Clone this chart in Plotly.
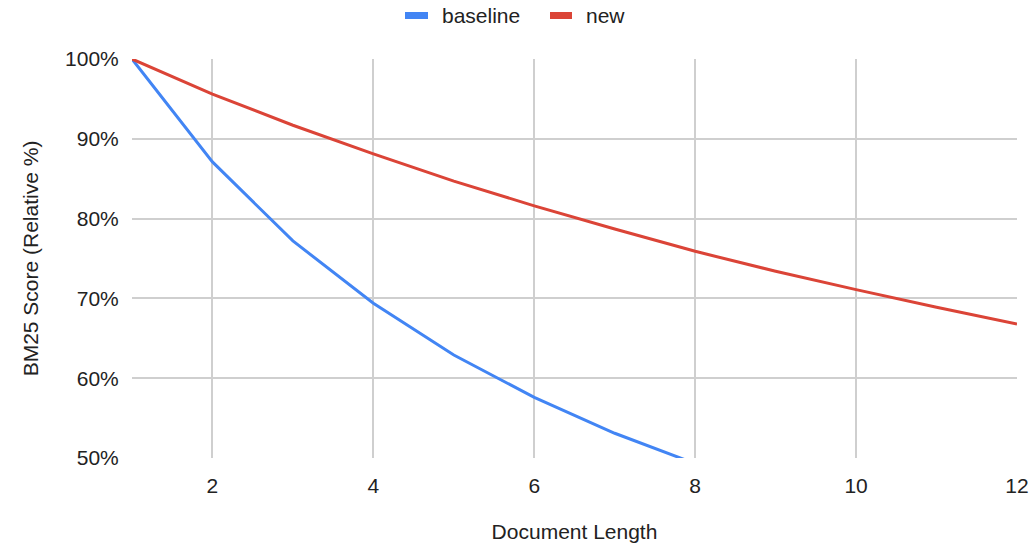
import plotly.graph_objects as go

# Relative BM25 score as document length grows
doc_length = [1, 2, 3, 4, 5, 6, 7, 8, 9, 10, 11, 12]
baseline = [100, 87.1, 77.2, 69.4, 62.9, 57.6, 53.1, 49.3]
new = [100, 95.6, 91.7, 88.1, 84.7, 81.6, 78.7, 75.9, 73.4, 71.1, 68.9, 66.8]

series_names = ["baseline", "new"]
series_colors = ["#4285F4", "#DB4437"]

x_ticks = [2, 4, 6, 8, 10, 12]
y_ticks = [50, 60, 70, 80, 90, 100]
y_tick_labels = ["50%", "60%", "70%", "80%", "90%", "100%"]

W, H = 1032, 545
L, R, T, B = 132, 15, 59, 87
FONT = "Liberation Sans, Arial, sans-serif"
FS = 21

fig = go.Figure()
fig.add_trace(go.Scatter(x=doc_length[:len(baseline)], y=baseline, mode="lines",
                         name=series_names[0], line=dict(color=series_colors[0], width=3),
                         showlegend=False, cliponaxis=True))
fig.add_trace(go.Scatter(x=doc_length, y=new, mode="lines",
                         name=series_names[1], line=dict(color=series_colors[1], width=3),
                         showlegend=False, cliponaxis=True))

# legend drawn at top centre as swatches + labels
pw, ph = W - L - R, H - T - B
def px_x(v):
    return (v - L) / pw
def px_y(v):
    return (H - B - v) / ph

legend_items = [(405, 428, 440), (550, 572, 584)]
for (x0, x1, tx), name, color in zip(legend_items, series_names, series_colors):
    fig.add_shape(type="rect", xref="paper", yref="paper",
                  x0=px_x(x0), x1=px_x(x1), y0=px_y(19), y1=px_y(12),
                  fillcolor=color, line=dict(width=0))
    fig.add_annotation(xref="paper", yref="paper", x=px_x(tx), y=px_y(15),
                       text=name, showarrow=False, xanchor="left", yanchor="middle",
                       font=dict(family=FONT, size=FS, color="#222222"))

fig.update_layout(
    width=W, height=H,
    margin=dict(l=L, r=R, t=T, b=B, autoexpand=False),
    paper_bgcolor="white", plot_bgcolor="white",
    font=dict(family=FONT, size=FS, color="#222222"),
)
fig.update_xaxes(
    range=[1, 12], tickvals=x_ticks, showgrid=True, gridcolor="#cfcfcf", gridwidth=1.5,
    zeroline=False, showline=False, ticks="outside", ticklen=9, tickcolor="rgba(0,0,0,0)",
    automargin=False,
    title=dict(text="Document Length", standoff=28, font=dict(size=FS)),
)
fig.update_yaxes(
    range=[50, 100], tickvals=y_ticks, ticktext=y_tick_labels, showgrid=True,
    gridcolor="#cfcfcf", gridwidth=1.5, zeroline=False, showline=False,
    ticks="outside", ticklen=8, tickcolor="rgba(0,0,0,0)", automargin=False,
    title=dict(text="BM25 Score (Relative %)", standoff=20, font=dict(size=FS)),
)

fig.write_html("out.html")
